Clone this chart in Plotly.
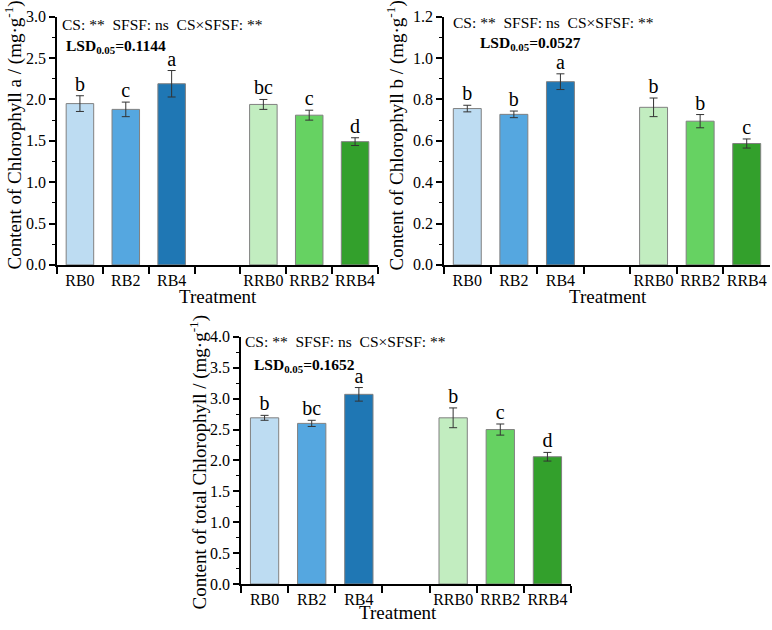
import plotly.graph_objects as go

categories = ["RB0", "RB2", "RB4", " ", "RRB0", "RRB2", "RRB4"]
colors = ["#bddcf2", "#55a7e0", "#1f77b4", "#ffffff", "#c2edc0", "#66d262", "#33a02c"]

chla = [1.95, 1.88, 2.19, None, 1.94, 1.81, 1.49]
chla_err = [0.095, 0.088, 0.16, None, 0.06, 0.06, 0.047]
chla_letters = ["b", "c", "a", "", "bc", "c", "d"]

chlb = [0.756, 0.728, 0.886, None, 0.762, 0.695, 0.587]
chlb_err = [0.016, 0.016, 0.038, None, 0.045, 0.032, 0.022]
chlb_letters = ["b", "b", "a", "", "b", "b", "c"]

chlt = [2.69, 2.60, 3.07, None, 2.69, 2.50, 2.06]
chlt_err = [0.04, 0.05, 0.11, None, 0.16, 0.09, 0.07]
chlt_letters = ["b", "bc", "a", "", "b", "c", "d"]

FONT = "Liberation Serif"

fig = go.Figure()

def add_panel(vals, errs, letters, xa, ya):
    fig.add_trace(go.Bar(
        x=categories, y=vals, xaxis=xa, yaxis=ya, width=0.6,
        marker=dict(color=colors, line=dict(color="#808080", width=1)),
        error_y=dict(type="data", array=errs, visible=True, color="#333333",
                     thickness=1, width=4),
        showlegend=False, hoverinfo="skip"))
    pts = [(c, v + e, t) for c, v, e, t in zip(categories, vals, errs, letters) if v is not None]
    fig.add_trace(go.Scatter(
        x=[p[0] for p in pts], y=[p[1] for p in pts], xaxis=xa, yaxis=ya,
        mode="text", text=[p[2] for p in pts],
        textposition="top center", textfont=dict(family=FONT, size=20, color="black"),
        showlegend=False, hoverinfo="skip", cliponaxis=False))

add_panel(chla, chla_err, chla_letters, "x", "y")
add_panel(chlb, chlb_err, chlb_letters, "x2", "y2")
add_panel(chlt, chlt_err, chlt_letters, "x3", "y3")

def xaxis(domain, anchor):
    return dict(domain=domain, anchor=anchor, type="category",
                categoryorder="array", categoryarray=categories,
                range=[-0.5, 6.5], tickson="boundaries", ticks="outside",
                ticklen=7, tickwidth=1.5, tickcolor="black", tickangle=0,
                showline=True, linecolor="black", linewidth=1.5,
                showgrid=False, zeroline=False,
                tickfont=dict(family=FONT, size=16, color="black"))

def yaxis(domain, anchor, rng, dtick):
    return dict(domain=domain, anchor=anchor, range=rng, dtick=dtick,
                tickformat=".1f", ticks="outside", ticklen=6, tickwidth=1.5,
                tickcolor="black", showline=True, linecolor="black", linewidth=1.5,
                showgrid=False, zeroline=False,
                minor=dict(ticks="outside", ticklen=3, dtick=dtick / 2,
                           tickcolor="black", tickwidth=1.2),
                tickfont=dict(family=FONT, size=16, color="black"))

W, H = 772, 630
top_dom = [(H - 264) / H, (H - 9) / H]
bot_dom = [(H - 592) / H, (H - 338) / H]

fig.update_layout(
    width=W, height=H, margin=dict(l=0, r=0, t=0, b=0),
    plot_bgcolor="white", paper_bgcolor="white",
    bargap=0.4,
    xaxis=xaxis([57 / W, 378 / W], "y"),
    yaxis=yaxis(top_dom, "x", [0, 3.0], 0.5),
    xaxis2=xaxis([444 / W, 770 / W], "y2"),
    yaxis2=yaxis(top_dom, "x2", [0, 1.2], 0.2),
    xaxis3=xaxis([241 / W, 571 / W], "y3"),
    yaxis3=yaxis(bot_dom, "x3", [0, 4.0], 0.5),
)

def ann(text, x, y, size, angle=0, xanchor="center"):
    fig.add_annotation(text=text, x=x / W, y=(H - y) / H, xref="paper", yref="paper",
                       showarrow=False, textangle=angle, xanchor=xanchor,
                       yanchor="middle", font=dict(family=FONT, size=size, color="black"))

stats = "CS: **  SFSF: ns  CS×SFSF: **"
ann(stats, 60, 17, 15.5, xanchor="left")
ann("<b>LSD<sub>0.05</sub>=0.1144</b>", 64, 40, 15.5, xanchor="left")
ann(stats, 451, 15, 15.5, xanchor="left")
ann("<b>LSD<sub>0.05</sub>=0.0527</b>", 478, 36, 15.5, xanchor="left")
ann(stats, 243, 343, 15.5, xanchor="left")
ann("<b>LSD<sub>0.05</sub>=0.1652</b>", 252, 367, 15.5, xanchor="left")

ann("Treatment", 218, 297, 19)
ann("Treatment", 608, 297, 19)
ann("Treatment", 398, 621, 19)

ann("Content of Chlorophyll a / (mg·g<sup>-1</sup>)", 13, 131, 19, angle=-90)
ann("Content of Chlorophyll b / (mg·g<sup>-1</sup>)", 395, 131, 19, angle=-90)
ann("Content of total Chlorophyll / (mg·g<sup>-1</sup>)", 198, 467, 19, angle=-90)

fig.write_html("out.html")
